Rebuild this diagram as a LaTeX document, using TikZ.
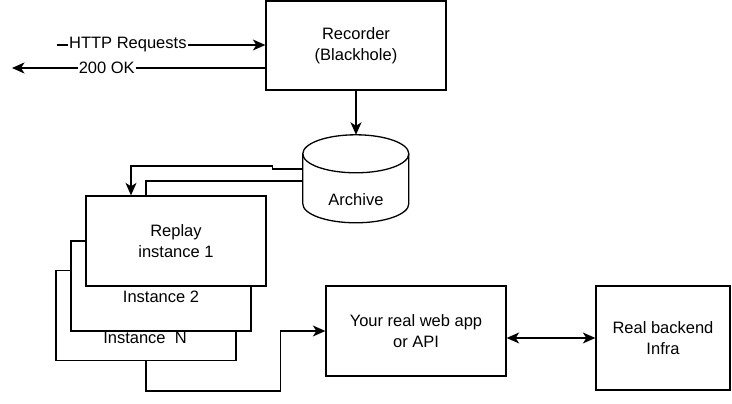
\documentclass[tikz,border=0pt]{standalone}
\usepackage{fontspec}
\setmainfont{Liberation Sans}
\usetikzlibrary{arrows.meta}
\tikzset{
  box/.style={draw, fill=white, line width=1.3pt, minimum width=180pt,
    minimum height=90pt, align=center, inner sep=0pt},
  wire/.style={line width=1.3pt},
  link/.style={wire, -{Stealth[length=12.5pt,width=11pt,inset=3.5pt]}},
  dlink/.style={wire, {Stealth[length=12.5pt,width=11pt,inset=3.5pt]}-{Stealth[length=12.5pt,width=11pt,inset=3.5pt]}},
  tag/.style={fill=white, inner sep=1pt},
}
\begin{document}
\begin{tikzpicture}[x=1pt, y=1pt, font=\fontsize{16.5}{21}\selectfont]
      \useasboundingbox (0,0) rectangle (732,404);

      % recorder and archive
      \node (rec) at (356,358.5) [box, minimum height=89pt] {Recorder\\(Blackhole)};
      \node (arch) at (356,225) [minimum width=106pt, minimum height=88pt, inner sep=0pt] {};
      \draw[wire, fill=white] ([yshift=-19pt]arch.north west)
        arc[start angle=180, end angle=0, x radius=53pt, y radius=19pt] -- ++(0,-50)
        arc[start angle=0, end angle=-180, x radius=53pt, y radius=19pt] -- cycle;
      \draw[wire] ([yshift=-19pt]arch.north west)
        arc[start angle=180, end angle=360, x radius=53pt, y radius=19pt];
      \node (archlab) at (356,204) {Archive};

      \coordinate (client) at (57,359);
      \coordinate (back) at (12,336);
      \draw[link] (client) -- node[pos=.34, tag] {HTTP Requests} (client -| rec.west);
      \draw[link] ([yshift=-22.5pt]rec.west) -- node[pos=.626, tag] {200 OK} (back);
      \draw[link] (rec) -- (arch.north);

      % replay instances, back to front
      \node (repN) at (146,88.5) [box] {};
      \node (rep2) at (161,118) [box] {};
      \node (rep) at (176,163) [box] {Replay\\instance 1};
      \node (lab2) at (161,107) {Instance 2};
      \node (labN) at (145,66) {Instance~\ N};

      \draw[link] ([yshift=10pt]arch.west) -- ++(-30,0) -- ++(0,3) -| ([xshift=-45pt]rep.north);
      \draw[wire] ([yshift=-2pt]arch.west) -| ([xshift=-30pt]rep.north);

      % real app and backend
      \node (app) at (416,73) [box] {Your real web app\\or API};
      \node (infra) at (663,66) [box, minimum width=134pt, minimum height=104pt] {Real backend\\Infra};

      \draw[link] (repN.south) -- ++(0,-30) -| ([xshift=-45pt]app.west) -- (app.west);
      \draw[dlink] (app.east |- infra.west) -- (infra.west);
\end{tikzpicture}
\end{document}
